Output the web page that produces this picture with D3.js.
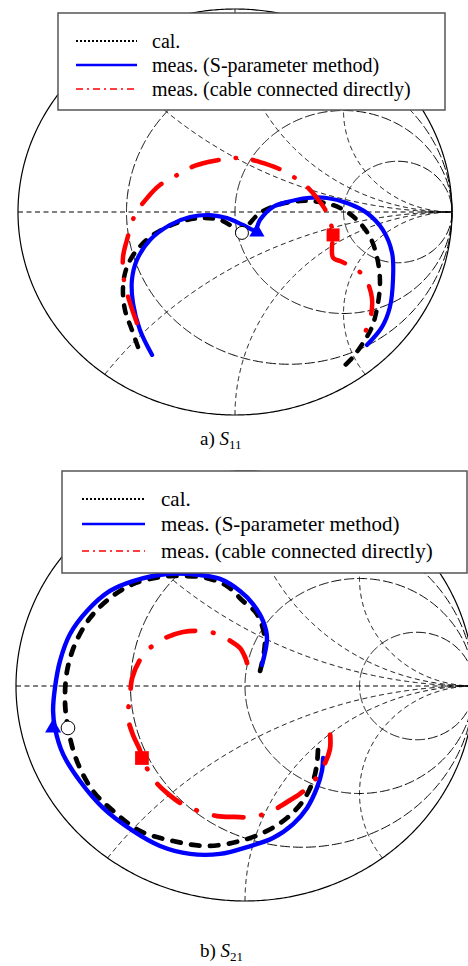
<!DOCTYPE html>
<html>
<head>
<meta charset="utf-8">
<script src="https://cdn.jsdelivr.net/npm/d3@7"></script>
<style>
  body { margin: 0; background: #fff; }
  svg { display: block; }
  text { font-family: "Liberation Serif", "DejaVu Serif", serif; fill: #000; }
</style>
</head>
<body>
<svg id="chart" width="468" height="966"></svg>
<script>
// reflection / transmission coefficients, [re, im]
var s11Cal = [[-0.447,-0.665],[-0.475,-0.581],[-0.507,-0.483],[-0.516,-0.369],[-0.498,-0.271],[-0.452,-0.187],
  [-0.378,-0.113],[-0.267,-0.054],[-0.161,-0.030],[-0.069,-0.039],[-0.009,-0.074],[0.032,-0.103],
  [0.069,-0.054],[0.115,-0.005],[0.194,0.034],[0.300,0.054],[0.392,0.049],[0.484,0.020],[0.562,-0.039],
  [0.622,-0.123],[0.654,-0.222],[0.668,-0.335],[0.659,-0.448],[0.631,-0.567],[0.590,-0.645],
  [0.544,-0.714],[0.484,-0.778]]
var s11Meas = [[-0.382,-0.704],[-0.438,-0.581],[-0.470,-0.448],[-0.475,-0.335],[-0.452,-0.236],[-0.392,-0.138],
  [-0.300,-0.064],[-0.207,-0.025],[-0.115,-0.015],[-0.037,-0.030],[0.037,-0.064],[0.092,-0.089],
  [0.115,-0.039],[0.175,0.025],[0.240,0.049],[0.332,0.069],[0.424,0.069],[0.516,0.044],[0.608,-0.005],
  [0.682,-0.089],[0.724,-0.202],[0.728,-0.335],[0.714,-0.468],[0.677,-0.567],[0.608,-0.655]]
var s11Cable = [[-0.452,-0.547],[-0.484,-0.448],[-0.512,-0.335],[-0.516,-0.222],[-0.498,-0.138],[-0.461,-0.015],
  [-0.401,0.074],[-0.346,0.133],[-0.267,0.182],[-0.198,0.222],[-0.124,0.246],[-0.046,0.261],[0.037,0.266],
  [0.115,0.246],[0.194,0.217],[0.263,0.177],[0.323,0.133],[0.378,0.069],[0.424,-0.005],[0.452,-0.113],
  [0.447,-0.170],[0.452,-0.225],[0.492,-0.245],[0.539,-0.270],[0.585,-0.305],[0.608,-0.340],
  [0.631,-0.424],[0.627,-0.507],[0.604,-0.581],[0.585,-0.645]]
// triangle, circle, square
var s11Marks = [[0.101,-0.099],[0.032,-0.103],[0.452,-0.113]]

var s21Cal = [[0.066,0.070],[0.087,0.214],[0.052,0.335],[-0.009,0.395],[-0.079,0.465],[-0.166,0.502],
  [-0.284,0.512],[-0.371,0.507],[-0.489,0.474],[-0.590,0.409],[-0.677,0.316],[-0.742,0.195],[-0.777,0.070],
  [-0.786,-0.070],[-0.773,-0.195],[-0.734,-0.349],[-0.664,-0.488],[-0.576,-0.581],[-0.459,-0.674],
  [-0.314,-0.721],[-0.166,-0.744],[-0.022,-0.721],[0.096,-0.674],[0.183,-0.614],[0.253,-0.535],
  [0.297,-0.442],[0.314,-0.363],[0.319,-0.288]]
var s21Meas = [[0.074,0.098],[0.096,0.223],[0.079,0.302],[0.035,0.381],[-0.022,0.442],[-0.109,0.498],
  [-0.197,0.516],[-0.341,0.521],[-0.489,0.488],[-0.590,0.442],[-0.690,0.349],[-0.764,0.242],[-0.808,0.116],
  [-0.830,-0.009],[-0.838,-0.116],[-0.830,-0.195],[-0.795,-0.316],[-0.721,-0.442],[-0.620,-0.567],
  [-0.489,-0.674],[-0.371,-0.744],[-0.240,-0.781],[-0.109,-0.781],[0.009,-0.749],[0.122,-0.707],
  [0.210,-0.642],[0.271,-0.567],[0.314,-0.474],[0.336,-0.395],[0.341,-0.335]]
var s21Cable = [[0.009,0.107],[0.000,0.135],[-0.022,0.177],[-0.057,0.205],[-0.122,0.242],[-0.197,0.256],
  [-0.271,0.251],[-0.349,0.223],[-0.415,0.177],[-0.459,0.121],[-0.493,0.037],[-0.502,-0.051],
  [-0.511,-0.144],[-0.489,-0.228],[-0.459,-0.298],[-0.450,-0.335],[-0.393,-0.442],[-0.336,-0.502],
  [-0.275,-0.549],[-0.205,-0.581],[-0.122,-0.605],[-0.044,-0.609],[0.031,-0.609],[0.109,-0.586],
  [0.183,-0.540],[0.240,-0.502],[0.297,-0.447],[0.341,-0.377],[0.371,-0.293],[0.371,-0.214],[0.362,-0.149]]
var s21Marks = [[-0.838,-0.195],[-0.773,-0.195],[-0.450,-0.335]]

var gridR = [1/3, 1, 3]
var gridX = [0.5, 1, 2]
var legendLabels = ["cal.", "meas. (S-parameter method)", "meas. (cable connected directly)"]

var charts = [
  { cal: s11Cal, meas: s11Meas, cable: s11Cable, marks: s11Marks, k: 1,
    x: d3.scaleLinear().domain([-1, 1]).range([18, 452]),
    y: d3.scaleLinear().domain([-1, 1]).range([415, 9]),
    legend: { x: 58, y: 13, w: 387, h: 97, font: 20, rows: [28, 52, 76], sx: [76, 137], tx: 152 },
    caption: { x: 200, y: 445, pre: "a) ", sub: "11" } },
  { cal: s21Cal, meas: s21Meas, cable: s21Cable, marks: s21Marks, k: 1.055,
    x: d3.scaleLinear().domain([-1, 1]).range([16, 474]),
    y: d3.scaleLinear().domain([-1, 1]).range([901, 471]),
    legend: { x: 62, y: 471, w: 405, h: 102, font: 21, rows: [28, 53, 80], sx: [82, 145], tx: 161 },
    caption: { x: 200, y: 957, pre: "b) ", sub: "21" } }
]

var svg = d3.select("#chart")

// z = r + jx  ->  (z - 1) / (z + 1)
function gamma(r, x) {
    var den = (r + 1) * (r + 1) + x * x
    return [(r * r - 1 + x * x) / den, (2 * x) / den]
}

charts.forEach(function(c) {

    var g = svg.append("g")
    var line = d3.line()
                 .x(function(d) { return c.x(d[0]) })
                 .y(function(d) { return c.y(d[1]) })
    var smooth = d3.line()
                   .x(function(d) { return c.x(d[0]) })
                   .y(function(d) { return c.y(d[1]) })
                   .curve(d3.curveCatmullRom)

    var thetas = d3.range(-Math.PI / 2 + 0.002, Math.PI / 2, 0.004)

    // outer circle
    g.append("path")
     .attr("d", line(d3.range(0, 2 * Math.PI + 0.01, 0.01).map(function(a) { return [Math.cos(a), Math.sin(a)] })))
     .attr("fill", "none").attr("stroke", "#000").attr("stroke-width", 1.2)

    // real axis
    g.append("path")
     .attr("d", line([[-1, 0], [1, 0]]))
     .attr("fill", "none").attr("stroke", "#000").attr("stroke-width", 1)
     .attr("stroke-dasharray", "5,3.5")

    gridR.forEach(function(r) {
        g.append("path")
         .attr("d", line(thetas.map(function(t) { return gamma(r, Math.tan(t)) }).concat([[1, 0]])))
         .attr("fill", "none").attr("stroke", "#000").attr("stroke-width", 1)
         .attr("stroke-dasharray", "10,3")
    })

    gridX.forEach(function(xv) {
        [xv, -xv].forEach(function(xx) {
            var pts = d3.range(0, 0.999, 0.002).map(function(t) { return gamma(t / (1 - t), xx) })
            pts.push([1, 0])
            g.append("path")
             .attr("d", line(pts))
             .attr("fill", "none").attr("stroke", "#000").attr("stroke-width", 1)
             .attr("stroke-dasharray", "5,3.5")
        })
    })

    // traces
    g.append("path")
     .attr("d", smooth(c.cal))
     .attr("fill", "none").attr("stroke", "#000").attr("stroke-width", 4.5 * c.k)
     .attr("stroke-linecap", "round")
     .attr("stroke-dasharray", (8 * c.k) + "," + (10 * c.k))

    g.append("path")
     .attr("d", smooth(c.meas))
     .attr("fill", "none").attr("stroke", "#0000ff").attr("stroke-width", 4.2 * c.k)
     .attr("stroke-linecap", "round").attr("stroke-linejoin", "round")

    g.append("path")
     .attr("d", smooth(c.cable))
     .attr("fill", "none").attr("stroke", "#ff0000").attr("stroke-width", 4.5 * c.k)
     .attr("stroke-linecap", "round")
     .attr("stroke-dasharray", [28 * c.k, 17 * c.k, 0.5, 17 * c.k].join(","))

    // markers
    g.append("path")
     .attr("d", d3.symbol(d3.symbolTriangle).size(100 * c.k * c.k)())
     .attr("transform", "translate(" + c.x(c.marks[0][0]) + "," + c.y(c.marks[0][1]) + ")")
     .attr("fill", "#0000ff")

    g.append("circle")
     .attr("cx", c.x(c.marks[1][0])).attr("cy", c.y(c.marks[1][1]))
     .attr("r", 6.5 * c.k)
     .attr("fill", "#fff").attr("stroke", "#000").attr("stroke-width", 1)

    var sq = 13 * c.k
    g.append("rect")
     .attr("x", c.x(c.marks[2][0]) - sq / 2).attr("y", c.y(c.marks[2][1]) - sq / 2)
     .attr("width", sq).attr("height", sq)
     .attr("fill", "#ff0000")

    // legend
    var L = c.legend
    var leg = g.append("g")
    leg.append("rect")
       .attr("x", L.x).attr("y", L.y).attr("width", L.w).attr("height", L.h)
       .attr("fill", "#fff").attr("stroke", "#555").attr("stroke-width", 1.5)

    var sampleStyle = [
        { color: "#000", width: 2, dash: "2,2" },
        { color: "#0000ff", width: 2.5, dash: null },
        { color: "#ff0000", width: 1.6, dash: "7,4,2,4" }
    ]

    legendLabels.forEach(function(label, i) {
        var yy = L.y + L.rows[i]
        leg.append("line")
           .attr("x1", L.sx[0]).attr("x2", L.sx[1])
           .attr("y1", yy).attr("y2", yy)
           .attr("stroke", sampleStyle[i].color)
           .attr("stroke-width", sampleStyle[i].width)
           .attr("stroke-dasharray", sampleStyle[i].dash)
        leg.append("text")
           .attr("x", L.tx).attr("y", yy + 7)
           .style("font-size", L.font + "px")
           .text(label)
    })

    // caption
    var cap = svg.append("text")
                 .attr("x", c.caption.x).attr("y", c.caption.y)
                 .style("font-size", "19px")
    cap.append("tspan").text(c.caption.pre)
    cap.append("tspan").style("font-style", "italic").text("S")
    cap.append("tspan").attr("dy", 4).style("font-size", "13px").text(c.caption.sub)
})
</script>
</body>
</html>
